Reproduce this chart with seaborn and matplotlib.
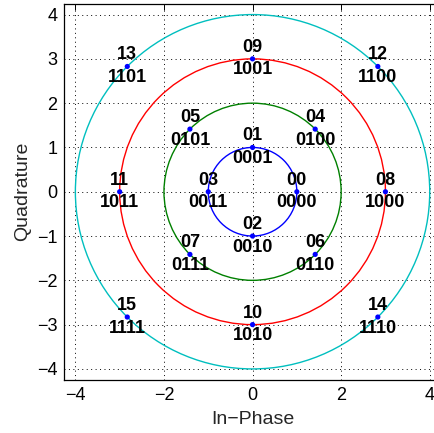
import numpy as np
import pandas as pd
import matplotlib
matplotlib.use("Agg")
import matplotlib.pyplot as plt
from matplotlib.patches import Circle
import seaborn as sns

# ---- data ----
symbols = ["00", "01", "02", "03", "04", "05", "06", "07",
           "08", "09", "10", "11", "12", "13", "14", "15"]
bits = ["0000", "0001", "0010", "0011", "0100", "0101", "0110", "0111",
        "1000", "1001", "1010", "1011", "1100", "1101", "1110", "1111"]
amplitude = [1, 1, 1, 1, 2, 2, 2, 2, 3, 3, 3, 3, 4, 4, 4, 4]
phase_deg = [0, 90, 270, 180, 45, 135, 315, 225,
             0, 90, 270, 180, 45, 135, 315, 225]
ring_radius = [1, 2, 3, 4]
ring_color = ["#0000ff", "#008000", "#ff0000", "#00bfbf"]
xticks = [-4, -2, 0, 2, 4]
yticks = [-4, -3, -2, -1, 0, 1, 2, 3, 4]

amp = np.array(amplitude, dtype=float)
ph = np.deg2rad(np.array(phase_deg, dtype=float))
df = pd.DataFrame({"I": amp * np.cos(ph), "Q": amp * np.sin(ph),
                   "sym": symbols, "bits": bits})

sns.set_style("white")
plt.rcParams["font.family"] = ["Liberation Sans", "DejaVu Sans"]
plt.rcParams["lines.scale_dashes"] = False

fig = plt.figure(figsize=(4.35, 4.33), dpi=100)
ax = fig.add_axes([64.3 / 435, 53 / 433, 376.5 / 435, 376.5 / 433])

for r, c in zip(ring_radius, ring_color):
    ax.add_patch(Circle((0, 0), r, fill=False, edgecolor=c, lw=1.0, zorder=2))

sns.scatterplot(data=df, x="I", y="Q", ax=ax, color="#0000ff", s=14,
                edgecolor="none", zorder=3, legend=False)

for _, row in df.iterrows():
    ax.annotate(row["sym"], (row["I"], row["Q"]), xytext=(0, 8.3),
                textcoords="offset points", ha="center", va="center",
                fontsize=13, fontweight="bold", color="black", zorder=4)
    ax.annotate(row["bits"], (row["I"], row["Q"]), xytext=(0, -8.0),
                textcoords="offset points", ha="center", va="center",
                fontsize=13, fontweight="bold", color="black", zorder=4)

ax.set_xlim(-4.25, 4.25)
ax.set_ylim(-4.25, 4.25)
ax.set_xticks(xticks)
ax.set_yticks(yticks)
ax.grid(True, color="black", linestyle=(0, (0.7, 2.5)), linewidth=0.7)
ax.tick_params(direction="in", length=4, width=0.7, labelsize=13,
               top=True, right=True, colors="black", pad=5)
for s in ax.spines.values():
    s.set_color("black")
    s.set_linewidth(0.9)
ax.set_xlabel("In\u2212Phase", fontsize=14, labelpad=5)
ax.set_ylabel("Quadrature", fontsize=14, labelpad=4)

fig.savefig("out.png", dpi=100)
